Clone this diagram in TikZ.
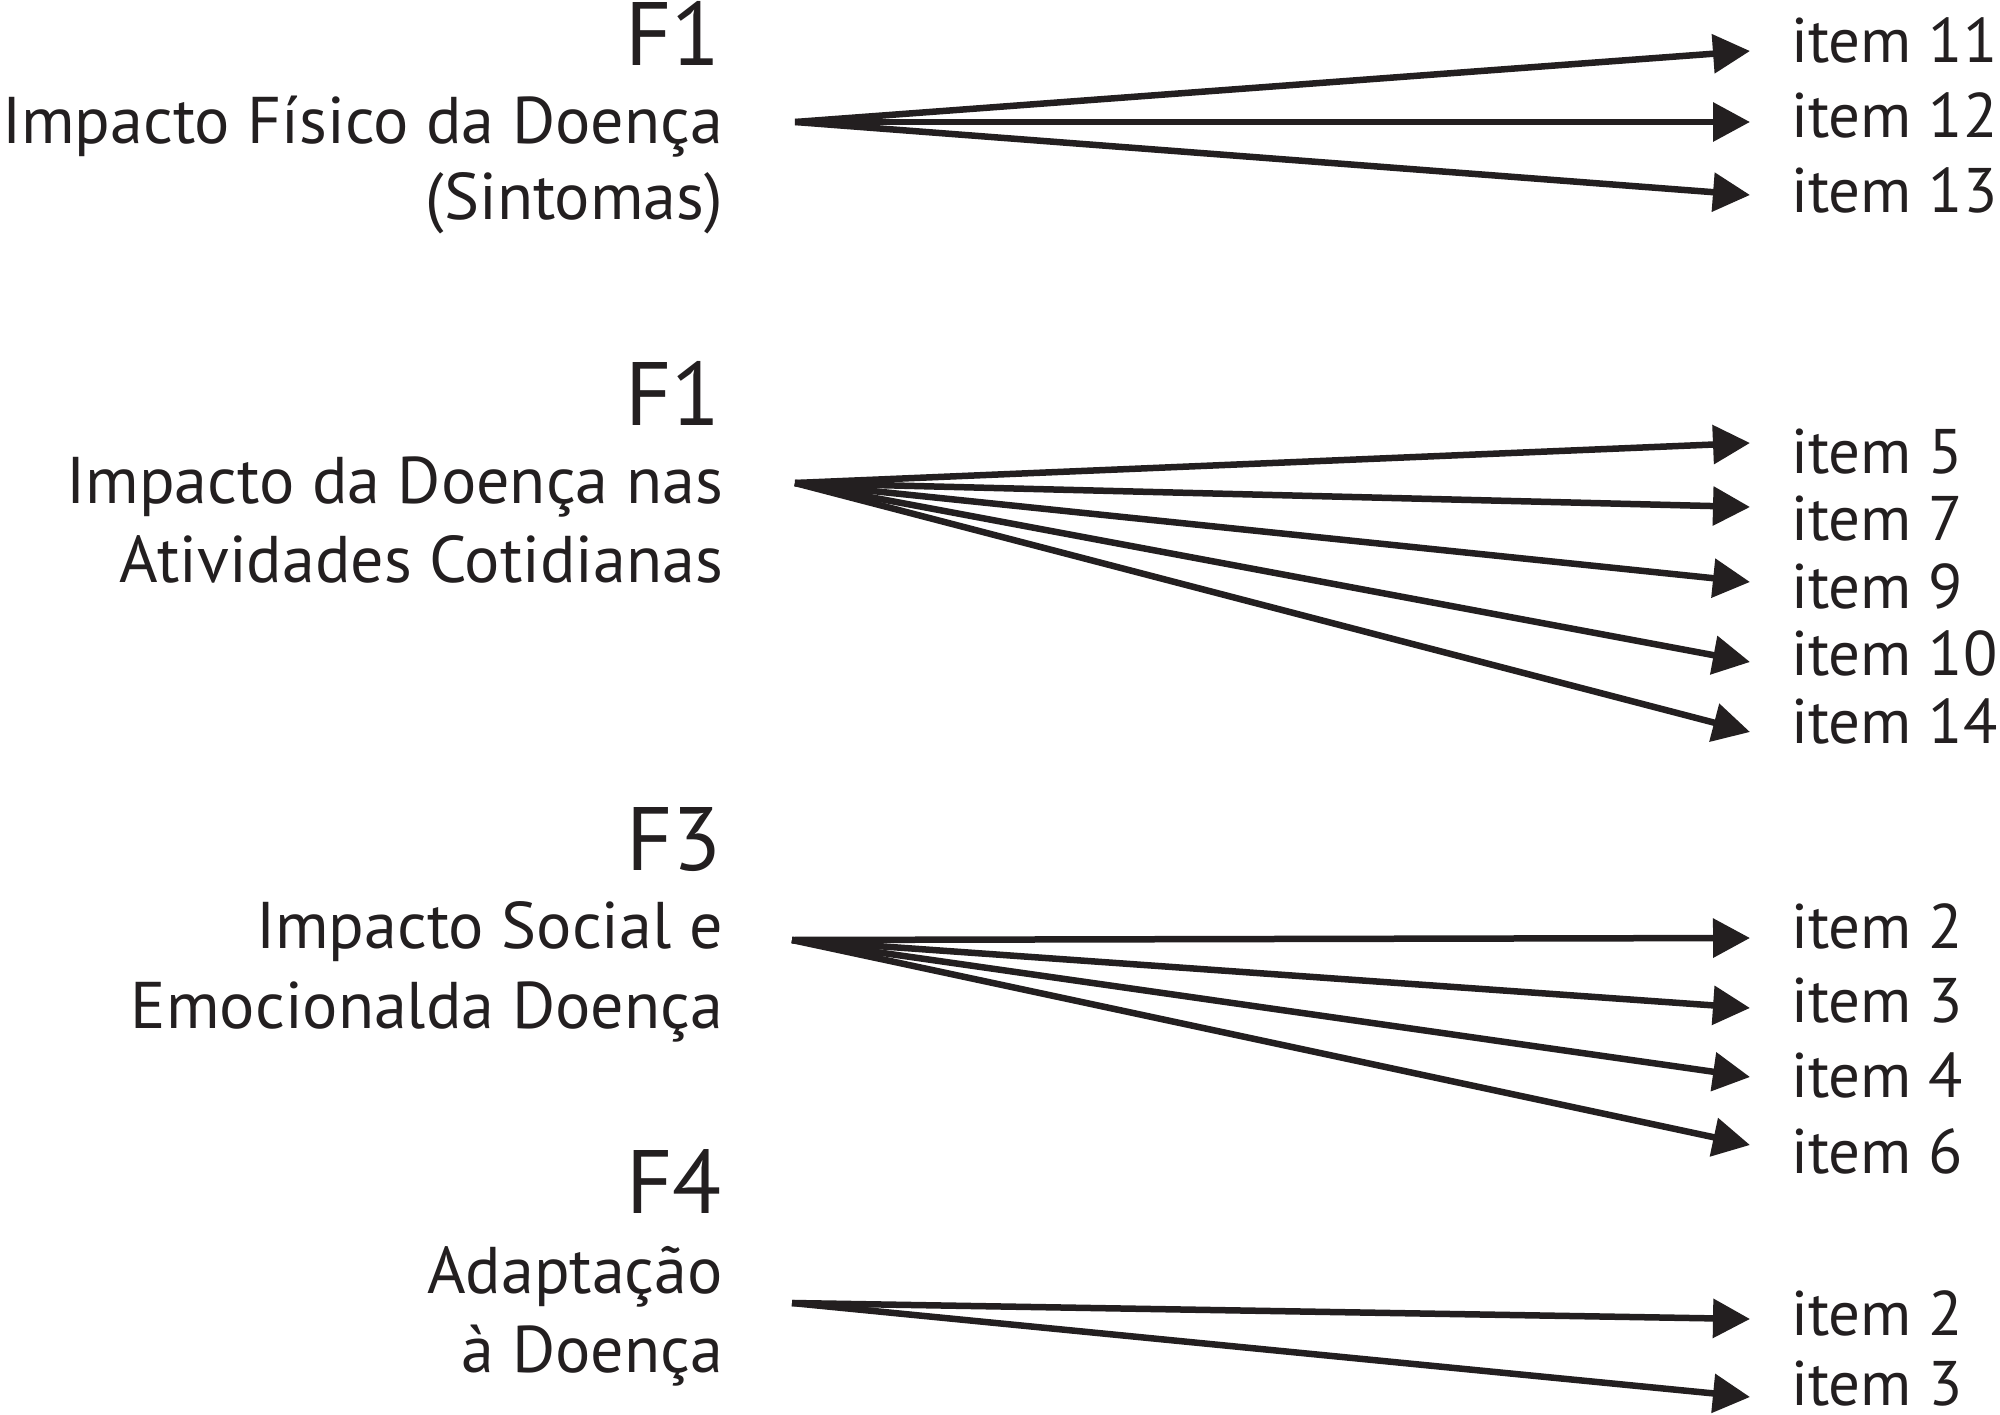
\documentclass[tikz,border=0pt]{standalone}
\usepackage{fontspec}
\setmainfont{PT Sans}
\usetikzlibrary{arrows.meta}
\definecolor{ink}{HTML}{231F20}
\begin{document}
\begin{tikzpicture}[x=1pt,y=-1pt,
  lbl/.style={anchor=base east,inner sep=0pt,text=ink,font=\fontsize{66}{72}\selectfont},
  fac/.style={anchor=base east,inner sep=0pt,text=ink,font=\fontsize{90}{96}\selectfont},
  itm/.style={anchor=base west,inner sep=0pt,text=ink,font=\fontsize{63}{70}\selectfont},
  arr/.style={draw=ink,line width=6.5pt,-{Triangle[length=37pt,width=38pt]}}]
\useasboundingbox[fill=white] (0,0) rectangle (2000,1415);

% Group 1
\node[fac] (f1a) at (721,66) {F1};
\node[lbl] (l1a) at (723,144) {Impacto Físico da Doença};
\node[lbl] (l1b) at (723,220) {(Sintomas)};
\coordinate (o1) at (795,122);
\coordinate (t11) at (1750,51);
\coordinate (t12) at (1750,122);
\coordinate (t13) at (1750,195);
\node[itm] (i11) at (1791,63) {item 11};
\node[itm] (i12) at (1791,138) {item 12};
\node[itm] (i13) at (1791,213) {item 13};
\draw[arr] (o1) -- (t11);
\draw[arr] (o1) -- (t12);
\draw[arr] (o1) -- (t13);

% Group 2
\node[fac] (f1b) at (721,425) {F1};
\node[lbl] (l2a) at (723,503) {Impacto da Doença nas};
\node[lbl] (l2b) at (723,582) {Atividades Cotidianas};
\coordinate (o2) at (795,483);
\coordinate (t5) at (1750,443);
\coordinate (t7) at (1750,507);
\coordinate (t9) at (1750,582);
\coordinate (t10) at (1750,662);
\coordinate (t14) at (1750,732);
\node[itm] (i5) at (1791,473) {item 5};
\node[itm] (i7) at (1791,540) {item 7};
\node[itm] (i9) at (1791,608) {item 9};
\node[itm] (i10) at (1791,675) {item 10};
\node[itm] (i14) at (1791,743) {item 14};
\foreach \t in {t5,t7,t9,t10,t14} \draw[arr] (o2) -- (\t);

% Group 3
\node[fac] (f3) at (722,870) {F3};
\node[lbl] (l3a) at (723,948) {Impacto Social e};
\node[lbl] (l3b) at (723,1028) {Emocionalda Doença};
\coordinate (o3) at (792,940);
\coordinate (t2) at (1750,938);
\coordinate (t3) at (1750,1008);
\coordinate (t4) at (1750,1077);
\coordinate (t6) at (1750,1145);
\node[itm] (i2) at (1791,948) {item 2};
\node[itm] (i3) at (1791,1022) {item 3};
\node[itm] (i4) at (1791,1097) {item 4};
\node[itm] (i6) at (1791,1173) {item 6};
\foreach \t in {t2,t3,t4,t6} \draw[arr] (o3) -- (\t);

% Group 4
\node[fac] (f4) at (722,1213) {F4};
\node[lbl] (l4a) at (723,1293) {Adaptação};
\node[lbl] (l4b) at (723,1372) {à Doença};
\coordinate (o4) at (792,1303);
\coordinate (t2b) at (1750,1319);
\coordinate (t3b) at (1750,1397);
\node[itm] (i2b) at (1791,1335) {item 2};
\node[itm] (i3b) at (1791,1405) {item 3};
\draw[arr] (o4) -- (t2b);
\draw[arr] (o4) -- (t3b);
\end{tikzpicture}
\end{document}
